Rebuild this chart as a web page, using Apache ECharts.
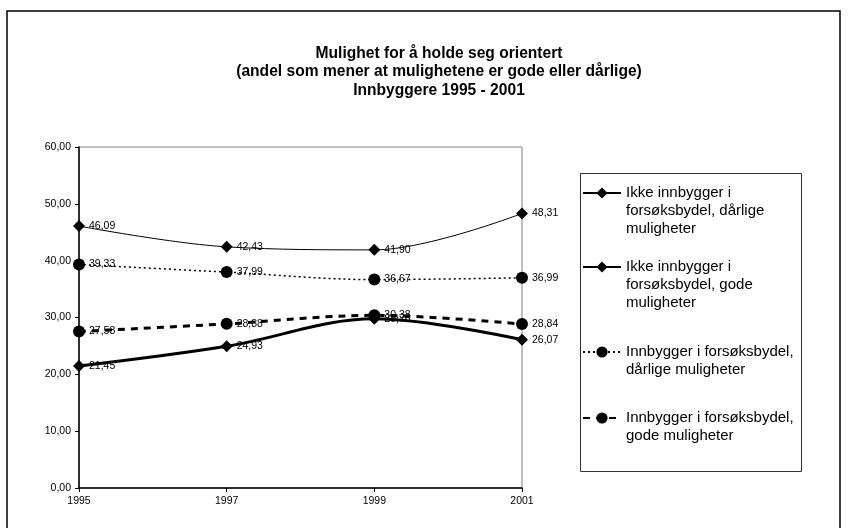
<!DOCTYPE html>
<html>
<head>
<meta charset="utf-8">
<script src="https://cdn.jsdelivr.net/npm/echarts@6/dist/echarts.min.js"></script>
<style>
html, body { margin: 0; padding: 0; background: #fff; }
#chart { width: 848px; height: 528px; }
</style>
</head>
<body>
<div id="chart"></div>
<script>
// data
var years = ['1995', '1997', '1999', '2001'];
var ikkeDarlige = [46.09, 42.43, 41.90, 48.31];
var ikkeGode = [21.45, 24.93, 29.76, 26.07];
var innDarlige = [39.33, 37.99, 36.67, 36.99];
var innGode = [27.53, 28.88, 30.38, 28.84];
var seriesNames = [
    'Ikke innbygger i\nforsøksbydel, dårlige\nmuligheter',
    'Ikke innbygger i\nforsøksbydel, gode\nmuligheter',
    'Innbygger i forsøksbydel,\ndårlige muligheter',
    'Innbygger i forsøksbydel,\ngode muligheter'
];

var font = 'Liberation Sans, Arial, sans-serif';
var fmt = function (v) { return Number(v).toFixed(2).replace('.', ','); };

var myChart = echarts.init(document.getElementById('chart'));

function mkSeries(name, data, symbol, size, lineType, width) {
    return {
        name: name,
        type: 'line',
        data: data,
        smooth: 0.35,
        symbol: symbol,
        symbolSize: size,
        itemStyle: { color: '#000' },
        lineStyle: { color: '#000', width: width, type: lineType },
        label: {
            show: true,
            position: 'right',
            distance: 4,
            color: '#000',
            fontFamily: font,
            fontSize: 10.5,
            formatter: function (p) { return fmt(p.value); }
        },
        emphasis: { disabled: true }
    };
}

// legend text is centred on the icon, so blank lines in front
// push the first real line level with the icon
function mkLegend(name, top, lines) {
    var pre = '';
    for (var i = 1; i < lines; i++) pre += '\n';
    return {
        data: [name],
        orient: 'vertical',
        left: 582,
        top: top,
        padding: 0,
        itemWidth: 38,
        itemHeight: 14,
        selectedMode: false,
        formatter: function (n) { return pre + n; },
        textStyle: {
            fontFamily: font,
            fontSize: 15,
            lineHeight: 18,
            color: '#000'
        }
    };
}

var option = {
    backgroundColor: '#fff',
    animation: false,
    title: {
        text: 'Mulighet for å holde seg orientert\n(andel som mener at mulighetene er gode eller dårlige)\nInnbyggere 1995 - 2001',
        left: 434,
        textAlign: 'center',
        top: 39,
        textStyle: {
            fontFamily: font,
            fontSize: 15.6,
            fontWeight: 'bold',
            lineHeight: 18.5,
            color: '#000'
        }
    },
    legend: [
        mkLegend(seriesNames[0], 148, 3),
        mkLegend(seriesNames[1], 222, 3),
        mkLegend(seriesNames[2], 325, 2),
        mkLegend(seriesNames[3], 391, 2)
    ],
    grid: {
        left: 79,
        right: 326,
        top: 147,
        bottom: 40,
        show: true,
        borderColor: '#808080',
        borderWidth: 1,
        backgroundColor: '#fff'
    },
    xAxis: {
        type: 'category',
        data: years,
        boundaryGap: false,
        axisLine: { lineStyle: { color: '#000', width: 1.5 } },
        axisTick: { show: true, length: 4, lineStyle: { color: '#000' } },
        axisLabel: { color: '#000', fontFamily: font, fontSize: 10.5, margin: 8 },
        splitLine: { show: false }
    },
    yAxis: {
        type: 'value',
        min: 0,
        max: 60,
        interval: 10,
        axisLine: { show: true, lineStyle: { color: '#000', width: 1.5 } },
        axisTick: { show: true, length: 4, lineStyle: { color: '#000' } },
        axisLabel: { color: '#000', fontFamily: font, fontSize: 10.5, margin: 8, formatter: fmt },
        splitLine: { show: false }
    },
    graphic: [
        {
            type: 'rect',
            shape: { x: 7, y: 11, width: 833, height: 540 },
            style: { fill: 'none', stroke: '#000', lineWidth: 1.5 },
            silent: true
        },
        {
            type: 'rect',
            shape: { x: 580.5, y: 173.5, width: 221, height: 298 },
            style: { fill: 'none', stroke: '#333', lineWidth: 1 },
            silent: true
        }
    ],
    series: [
        mkSeries(seriesNames[0], ikkeDarlige, 'diamond', 12, 'solid', 1),
        mkSeries(seriesNames[1], ikkeGode, 'diamond', 12, 'solid', 3),
        mkSeries(seriesNames[2], innDarlige, 'circle', 12, [2, 3], 1.5),
        mkSeries(seriesNames[3], innGode, 'circle', 12, [7, 6], 3)
    ]
};

myChart.setOption(option);
</script>
</body>
</html>
